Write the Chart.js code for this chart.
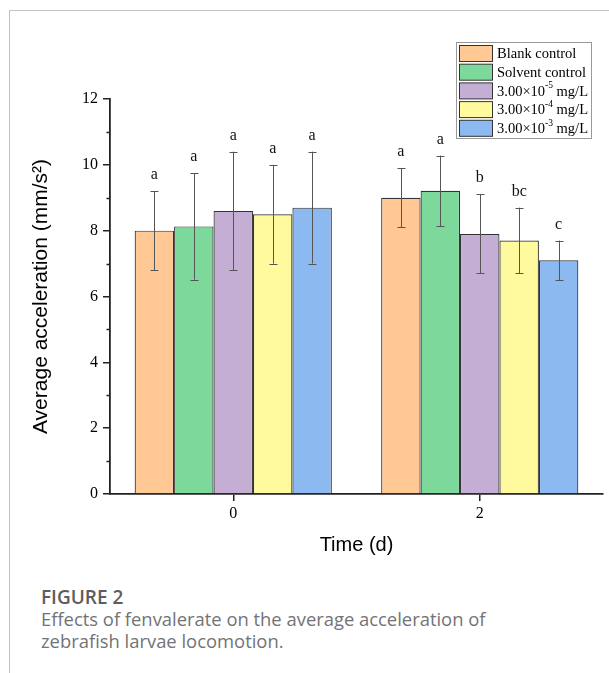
<!DOCTYPE html>
<html>
<head>
<meta charset="utf-8">
<script src="https://cdn.jsdelivr.net/npm/chart.js@4.4.1/dist/chart.umd.min.js"></script>
<style>
  html, body { margin: 0; padding: 0; background: #fff; }
  body { width: 609px; height: 673px; position: relative; overflow: hidden; }
  #frame { position: absolute; left: 9px; top: 10px; width: 610px; height: 670px;
           border-left: 1px solid #c4c4c4; border-top: 1px solid #c4c4c4; }
  #wrap { position: absolute; left: 0; top: 0; width: 609px; height: 575px; }
  #caption { position: absolute; left: 41px; top: 586px; font-family: "Open Sans", sans-serif;
             font-size: 18.4px; line-height: 22px; color: #727376; white-space: nowrap; }
  #caption .fig { font-weight: 600; color: #5c5d60; font-size: 19px; }
</style>
</head>
<body>
<div id="frame"></div>
<div id="wrap"><canvas id="c" width="609" height="575"></canvas></div>
<div id="caption">
  <div class="fig">FIGURE 2</div>
  <div>Effects of fenvalerate on the average acceleration of</div>
  <div>zebrafish larvae locomotion.</div>
</div>
<script>
// ---- data ----
const categories = ['0', '2'];
const seriesLabels = ['Blank control', 'Solvent control', '3.00×10⁻⁵ mg/L', '3.00×10⁻⁴ mg/L', '3.00×10⁻³ mg/L'];
const blankControl   = [8.0, 9.0];
const solventControl = [8.13, 9.21];
const conc5          = [8.6, 7.9];
const conc4          = [8.5, 7.7];
const conc3          = [8.7, 7.1];
const blankErr   = [1.2, 0.9];
const solventErr = [1.62, 1.07];
const conc5Err   = [1.8, 1.2];
const conc4Err   = [1.5, 1.0];
const conc3Err   = [1.7, 0.6];
const blankLetters   = ['a', 'a'];
const solventLetters = ['a', 'a'];
const conc5Letters   = ['a', 'b'];
const conc4Letters   = ['a', 'bc'];
const conc3Letters   = ['a', 'c'];
const yTickValues = [0, 2, 4, 6, 8, 10, 12];
const yMinorTicks = [1, 3, 5, 7, 9, 11];
const xTitle = 'Time (d)';
const yTitle = 'Average acceleration (mm/s²)';

// ---- styling ----
const colors = ['#ffc894', '#7dd99b', '#c5aed4', '#fffa9e', '#8cbaf0'];
const values = [blankControl, solventControl, conc5, conc4, conc3];
const errors = [blankErr, solventErr, conc5Err, conc4Err, conc3Err];
const letters = [blankLetters, solventLetters, conc5Letters, conc4Letters, conc3Letters];
const serif = '"Liberation Serif", "Times New Roman", serif';
const sans = '"Liberation Sans", Arial, sans-serif';

const datasets = seriesLabels.map((lab, i) => ({
  label: lab,
  data: values[i],
  errors: errors[i],
  letters: letters[i],
  backgroundColor: colors[i],
  borderColor: '#333',
  borderWidth: 1.2,
  borderSkipped: 'bottom',
  categoryPercentage: 0.8,
  barPercentage: 1.0
}));

const supMap = {'⁻': '-', '⁰': '0', '¹': '1', '²': '2', '³': '3', '⁴': '4', '⁵': '5', '⁶': '6', '⁷': '7', '⁸': '8', '⁹': '9'};

const extrasPlugin = {
  id: 'extras',
  afterDatasetsDraw(chart) {
    const ctx = chart.ctx;
    const ys = chart.scales.y;
    chart.data.datasets.forEach((ds, i) => {
      const meta = chart.getDatasetMeta(i);
      meta.data.forEach((bar, j) => {
        const v = ds.data[j], e = ds.errors[j];
        const yt = ys.getPixelForValue(v + e);
        const yb = ys.getPixelForValue(v - e);
        const x = Math.round(bar.x) + 0.5;
        ctx.save();
        ctx.strokeStyle = '#555';
        ctx.lineWidth = 1;
        ctx.beginPath();
        ctx.moveTo(x, yt); ctx.lineTo(x, yb);
        ctx.moveTo(x - 4, Math.round(yt) + 0.5); ctx.lineTo(x + 4, Math.round(yt) + 0.5);
        ctx.moveTo(x - 4, Math.round(yb) + 0.5); ctx.lineTo(x + 4, Math.round(yb) + 0.5);
        ctx.stroke();
        ctx.fillStyle = '#111';
        ctx.font = '16px ' + serif;
        ctx.textAlign = 'center';
        ctx.textBaseline = 'alphabetic';
        ctx.fillText(ds.letters[j], bar.x, yt - 12);
        ctx.restore();
      });
    });
  },
  afterDraw(chart) {
    const ctx = chart.ctx;
    const ys = chart.scales.y;
    ctx.save();
    ctx.strokeStyle = '#222';
    ctx.lineWidth = 1.5;
    ctx.beginPath();
    yMinorTicks.forEach(v => {
      const y = Math.round(ys.getPixelForValue(v)) + 0.5;
      ctx.moveTo(ys.right - 3.5, y); ctx.lineTo(ys.right, y);
    });
    ctx.stroke();
    ctx.restore();

    // legend
    const bx = 456.5, by = 42.5, bw = 135, bh = 96;
    ctx.save();
    ctx.fillStyle = '#fff';
    ctx.fillRect(bx, by, bw, bh);
    ctx.strokeStyle = '#999';
    ctx.lineWidth = 1;
    ctx.strokeRect(bx, by, bw, bh);
    chart.data.datasets.forEach((ds, i) => {
      const top = 45.5 + i * 18.7;
      ctx.fillStyle = ds.backgroundColor;
      ctx.fillRect(459.5, top, 33, 16);
      ctx.strokeStyle = '#333';
      ctx.lineWidth = 1;
      ctx.strokeRect(459.5, top, 33, 16);
      const cy = top + 8;
      ctx.fillStyle = '#000';
      ctx.textAlign = 'left';
      ctx.textBaseline = 'middle';
      let x = 497;
      let buf = '', sup = false;
      const flush = () => {
        if (!buf) return;
        if (sup) {
          ctx.font = '9.5px ' + serif;
          ctx.fillText(buf, x, cy - 5);
        } else {
          ctx.font = '14.5px ' + serif;
          ctx.fillText(buf, x, cy + 1);
        }
        x += ctx.measureText(buf).width;
        buf = '';
      };
      for (const ch of ds.label) {
        const isSup = ch in supMap;
        if (isSup !== sup) { flush(); sup = isSup; }
        buf += isSup ? supMap[ch] : ch;
      }
      flush();
    });
    ctx.restore();
  }
};

new Chart(document.getElementById('c'), {
  type: 'bar',
  data: { labels: categories, datasets },
  plugins: [extrasPlugin],
  options: {
    responsive: false,
    animation: false,
    devicePixelRatio: 1,
    layout: { padding: { left: 10, top: 99, right: 6, bottom: 6 } },
    plugins: { legend: { display: false }, tooltip: { enabled: false } },
    scales: {
      x: {
        afterFit(s) { s.height = 75; },
        grid: { display: true, drawOnChartArea: false, drawTicks: true, tickLength: 7,
                color: '#222', lineWidth: 1.5, offset: false },
        border: { display: true, color: '#222', width: 1.8 },
        ticks: { color: '#000', font: { family: serif, size: 16 }, padding: 3 },
        title: { display: true, text: xTitle, color: '#000',
                 font: { family: sans, size: 20 }, padding: { top: 0, bottom: 12 } }
      },
      y: {
        min: 0, max: 12,
        afterFit(s) { s.width = 100; },
        afterBuildTicks(s) { s.ticks = yTickValues.map(v => ({ value: v })); },
        grid: { display: true, drawOnChartArea: false, drawTicks: true, tickLength: 7,
                color: '#222', lineWidth: 1.5 },
        border: { display: true, color: '#222', width: 1.8 },
        ticks: { color: '#000', font: { family: serif, size: 16 }, padding: 5 },
        title: { display: true, text: yTitle, color: '#000',
                 font: { family: sans, size: 21 }, padding: { top: 19, bottom: 0 } }
      }
    }
  }
});
</script>
</body>
</html>
